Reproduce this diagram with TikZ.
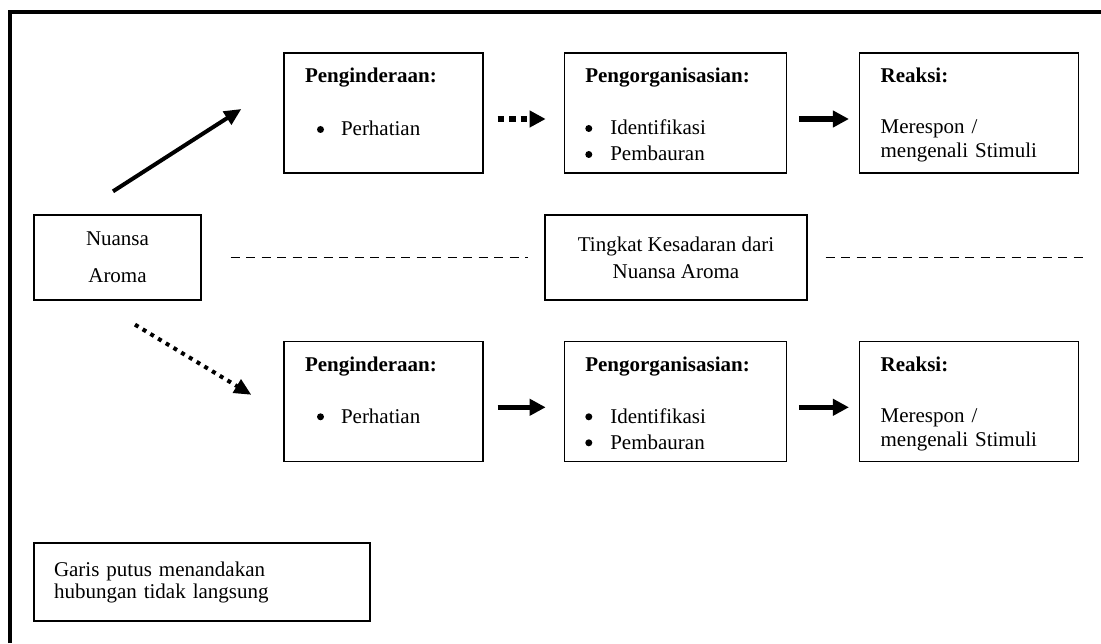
\documentclass[tikz,border=0pt]{standalone}
\usepackage{fontspec}
\setmainfont{Liberation Serif}
\usetikzlibrary{positioning,arrows.meta}

\newcommand{\itemdot}{\tikz[baseline=-6.5pt]\fill (0pt,0pt) circle (3.5pt);}

\begin{document}
\begin{tikzpicture}[x=1pt, y=1pt, node distance=80pt, font=\fontsize{21}{24}\selectfont]

% Define styles
\tikzstyle{stage} = [draw, rectangle, line width=1.3pt, align=left, inner xsep=21pt, inner ysep=0pt, text height=30pt, text depth=90pt]
\tikzstyle{plain} = [draw, rectangle, line width=1.3pt, align=center]
\tikzstyle{line} = [-{Triangle[length=16pt,width=16pt]}, line width=5.5pt]
\tikzstyle{dots} = [-{Triangle[length=16pt,width=16pt]}, line width=5.5pt, dash pattern=on 6.5pt off 5pt]
\tikzstyle{link} = [line width=1.3pt, dash pattern=on 9pt off 6.5pt]

\useasboundingbox (0,0) rectangle (1101,643);

% Frame
\draw[line width=4pt] (10,0) -- (10,631) -- (1101,631);

% First row
\node[stage, text width=157pt] (sense1) at (383.5,530) {\textbf{Penginderaan:}\\[29pt]\hspace*{12pt}\makebox[24pt][l]{\itemdot}Perhatian};
\node[stage, text width=180pt, right=80pt of sense1] (organ1) {\textbf{Pengorganisasian:}\\[28pt]\makebox[25pt][l]{\itemdot}Identifikasi\\[2pt]\makebox[25pt][l]{\itemdot}Pembauran};
\node[stage, text width=177pt, right=72pt of organ1] (react1) {\textbf{Reaksi:}\\[27pt]Merespon /\\mengenali Stimuli};

% Second row
\node[plain, minimum width=167pt, minimum height=85pt] (aroma) at (117.5,385.5) {Nuansa\\[13pt]Aroma};
\node[plain, minimum width=262pt, minimum height=85pt] (aware) at (676,385.5) {Tingkat Kesadaran dari\\[3pt]Nuansa Aroma};
\coordinate (edge) at (1084,385.5);

% Third row
\node[stage, text width=157pt, below=167pt of sense1] (sense2) {\textbf{Penginderaan:}\\[28pt]\hspace*{12pt}\makebox[24pt][l]{\itemdot}Perhatian};
\node[stage, text width=180pt, right=80pt of sense2] (organ2) {\textbf{Pengorganisasian:}\\[28pt]\makebox[25pt][l]{\itemdot}Identifikasi\\[2pt]\makebox[25pt][l]{\itemdot}Pembauran};
\node[stage, text width=177pt, right=72pt of organ2] (react2) {\textbf{Reaksi:}\\[27pt]Merespon /\\mengenali Stimuli};

% Legend
\node[plain, align=left, text width=296pt, inner xsep=20pt, minimum height=78pt] (legend) at (202,61) {Garis putus menandakan\\[-2pt]hubungan tidak langsung};

% Arrows
\draw[line, line width=4pt, -{Triangle[length=17pt,width=15pt]}] ([xshift=-4.5pt,yshift=23pt]aroma.north) -- ([xshift=-42pt,yshift=4pt]sense1.west);
\draw[dots, line width=4pt, dash pattern=on 4pt off 5pt, -{Triangle[length=17pt,width=15pt]}] ([xshift=17.5pt,yshift=-24pt]aroma.south) -- ([xshift=-32pt,yshift=6.5pt]sense2.west);
\draw[dots, shorten <=14pt, shorten >=18pt] ([yshift=-6pt]sense1.east) -- ([yshift=-6pt]organ1.west);
\draw[line, shorten <=12pt, shorten >=10pt] ([yshift=-6pt]organ1.east) -- ([yshift=-6pt]react1.west);
\draw[line, shorten <=14pt, shorten >=18pt] ([yshift=-6pt]sense2.east) -- ([yshift=-6pt]organ2.west);
\draw[line, shorten <=12pt, shorten >=10pt] ([yshift=-6pt]organ2.east) -- ([yshift=-6pt]react2.west);

% Dashed links
\draw[link, shorten <=29pt, shorten >=16pt] (aroma.east) -- (aware.west);
\draw[link, shorten <=18pt] (aware.east) -- (edge);

\end{tikzpicture}
\end{document}
